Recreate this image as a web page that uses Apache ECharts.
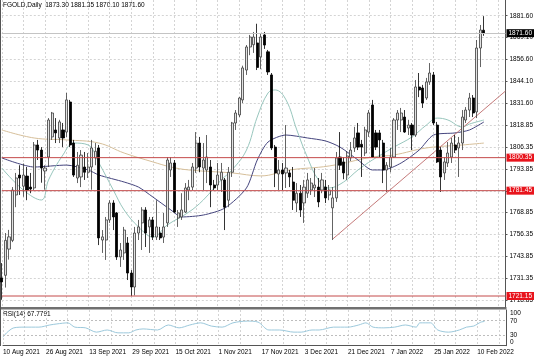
<!DOCTYPE html>
<html><head><meta charset="utf-8">
<script src="https://cdn.jsdelivr.net/npm/echarts@6/dist/echarts.min.js"></script>
<style>html,body{margin:0;padding:0;background:#fff}#c{width:536px;height:357px}</style>
</head><body><div id="c"></div>
<script>
const headerText = 'FGOLD,Daily  1873.30 1881.35 1870.10 1871.60';
const rsiText = 'RSI(14) 67.7791';
const dateTicks = ['10 Aug 2021','26 Aug 2021','13 Sep 2021','29 Sep 2021','15 Oct 2021','1 Nov 2021','17 Nov 2021','3 Dec 2021','21 Dec 2021','7 Jan 2022','25 Jan 2022','10 Feb 2022'];
const slotCount = 141; // 135 bars + empty right margin
// [open, close, low, high]
const candles = [
[1731.5,1729.2,1719,1740],[1733,1753,1726,1757.2],[1748,1755,1742,1759],[1753,1781.8,1752,1783.5],
[1779,1788.7,1772,1791.6],[1790.4,1788.7,1779,1796],[1784,1790.4,1778,1797],[1789.8,1781.8,1776,1795],
[1783.5,1782.4,1780,1791.6],[1783,1807.6,1781.8,1809.3],[1807.6,1804.7,1799,1810.5],[1804.7,1794.4,1786,1806.4],
[1792.7,1794.4,1782,1796],[1800.7,1821.9,1795,1823],[1812.2,1825.9,1810.5,1826.5],[1816.2,1814.5,1808.7,1823],
[1811.6,1820.8,1808.7,1822],[1816.2,1811.6,1806.4,1820.2],[1815,1833.4,1812.2,1837.4],[1832.2,1807.6,1806.4,1833.4],
[1808.7,1790.4,1789.3,1810.5],[1788.7,1796,1785.8,1803.6],[1789.3,1801.8,1783.5,1804.7],[1795,1792,1787.6,1803.6],
[1792,1795,1788.7,1803],[1795,1805.9,1782,1810.5],[1800.2,1804,1796,1808.7],[1805.9,1754.4,1750.3,1807.6],
[1753.2,1755,1745.8,1758.9],[1753.2,1764.7,1741.8,1766.4],[1764.7,1774.4,1763,1776],[1774.4,1766.4,1758.9,1776],
[1768.7,1743.5,1741.8,1769.2],[1743.5,1747.5,1737.8,1751.5],[1745.8,1758.9,1741.8,1760.7],[1751.5,1734.3,1730.3,1754.9],
[1734.3,1726.3,1721.15,1736],[1726.3,1757.2,1721.5,1760.7],[1757.2,1760.7,1753.2,1764.7],[1763,1770.4,1747.5,1772],
[1770.4,1757.2,1749.2,1772],[1760.7,1764.7,1745.8,1766.4],[1764.7,1754.9,1753.2,1766.4],[1754.9,1760.7,1753.2,1776],
[1757.2,1754.4,1753.2,1760.7],[1754.9,1760.7,1751.5,1768.7],[1763,1799,1760.7,1800.7],[1793.3,1797.3,1789.3,1800.7],
[1797.3,1769.2,1768.7,1799],[1765.8,1768.7,1760.7,1770.4],[1766.4,1770.4,1764.7,1780],[1769.2,1783,1768.7,1785.8],
[1781.8,1783.5,1776,1787.6],[1783.5,1795,1781.8,1797.3],[1794.4,1808.7,1791.6,1815],[1808.7,1795,1792,1812.2],
[1794.4,1799,1781.8,1808.7],[1793.3,1800.7,1785.8,1813.3],[1795,1784.7,1772,1799],[1784.7,1783,1781.8,1787.6],
[1784.7,1790.4,1781.8,1797.3],[1787.6,1792,1780.7,1797.3],[1787.6,1772,1758.9,1788.7],[1776,1792,1772,1795],
[1792,1820.2,1789.3,1820.8],[1820.2,1825.9,1816.2,1827.6],[1824.8,1834.5,1823.6,1835],[1833.4,1851.7,1831.6,1853],
[1850.5,1863.7,1847.7,1864.8],[1863.7,1869.4,1859,1870.6],[1865,1869.4,1860.3,1872.3],[1866,1852,1850.5,1877],
[1858,1869.4,1851,1871.7],[1870.6,1864.8,1862.6,1872.3],[1860.9,1849.4,1847.7,1862],[1847.7,1805.9,1804.7,1848.8],
[1806.4,1791.6,1783.5,1807.6],[1791,1793.3,1781.8,1799],[1793.3,1791,1781.8,1797.3],[1791.6,1794.4,1783,1819],
[1791.6,1789.3,1783.5,1793.3],[1786.4,1776,1770.4,1795],[1774.4,1780,1769.2,1785.8],[1780,1770.4,1766.4,1784.7],
[1774.4,1783.5,1763,1787.6],[1780,1787.6,1777.3,1791.6],[1781.8,1785.8,1779,1788.7],[1783,1784.7,1777.8,1794.4],
[1783.5,1775,1772,1788.7],[1781.8,1787.6,1780,1791.6],[1783.5,1777.3,1774.4,1787.6],[1779,1781.8,1776,1784.7],
[1771.6,1777.3,1753.2,1783.5],[1777.3,1800.2,1775,1803.6],[1800.7,1796,1793.3,1815],[1797.9,1791.6,1788,1800.7],
[1790.4,1801.3,1787.6,1804],[1800.2,1804.7,1798.4,1809.3],[1805.9,1811.6,1803.6,1818],[1814.5,1806.4,1804.7,1820.2],
[1808,1806.4,1789.3,1810.5],[1803,1816.2,1801.3,1818],[1815,1825.9,1812.2,1827.6],[1830.5,1800.7,1800.2,1833.4],
[1814.5,1806.4,1804.7,1816.2],[1814.5,1810.5,1800.7,1816.2],[1808.7,1793.3,1785.8,1810.5],[1793.3,1796,1780.7,1797.8],
[1795,1800.7,1792,1805.9],[1800.7,1821.9,1800.2,1823],[1821.9,1825.9,1816.2,1827.6],[1821.9,1825.9,1815,1828.8],
[1823.6,1815,1814.5,1827.6],[1817.3,1819,1813.3,1822],[1819,1813.3,1804.7,1820.2],[1813.3,1840.8,1812.2,1844.8],
[1840.8,1839.1,1835,1848.8],[1840.2,1831.6,1828.8,1842],[1834.5,1843.7,1833.4,1846],[1843.7,1848.8,1842,1854.5],
[1847.7,1820.2,1819,1849.4],[1819,1797.9,1797.3,1820.8],[1804.7,1789.3,1780.7,1806.4],[1791.6,1797.9,1787.6,1800.7],
[1797.3,1803,1795,1809.3],[1800.7,1808.7,1797.3,1811.6],[1807.6,1804.7,1803,1813.3],[1805.9,1808.7,1789.3,1812.2],
[1808.7,1823.6,1804.7,1827.6],[1821.9,1827.6,1820.2,1829.3],[1827.6,1834.5,1823.6,1837.4],[1834.5,1825.9,1823.6,1836.2],
[1826.5,1863.1,1823,1867.7],[1863.1,1873.4,1852.2,1876.3],[1873.3,1871.6,1870.1,1881.35]
];
// moving averages, [barIndex, price]
const fastMA = [[0,1794.4],[6,1781.8],[11,1776.1],[13,1787.6],[17,1801.9],[20,1808.7],[24,1807.6],[27,1797.3],[31,1781.8],[34,1770.4],[38,1760.7],[42,1754.9],[46,1761.8],[52,1769.2],[56,1776.1],[61,1787.6],[64,1793.3],[68,1804.7],[71,1823.6],[74,1837.4],[76,1839.1],[79,1833.4],[82,1816.2],[85,1800.2],[88,1787.6],[91,1783],[95,1786.4],[99,1793.3],[103,1799],[109,1806.4],[114,1812.2],[118,1819],[121,1823],[124,1821.9],[128,1817.9],[130,1819.6],[134,1821.9]];
const midMA = [[0,1800.2],[9,1795],[18,1796.1],[24,1793.3],[27,1790.4],[34,1786.4],[38,1783.5],[42,1777.8],[47,1770.4],[50,1766.4],[56,1767.5],[62,1771.5],[68,1783],[71,1799],[74,1809.3],[79,1813.3],[85,1811.6],[90,1809.9],[94,1806.4],[99,1799],[103,1793.3],[106,1793.3],[111,1797.3],[116,1804.7],[120,1813.3],[126,1814.5],[130,1816.2],[134,1820.8]];
const slowMA = [[0,1816.2],[9,1811.6],[18,1810.5],[27,1808.7],[34,1803],[42,1797.9],[47,1795],[52,1793.3],[64,1791.6],[72,1789.9],[80,1793.3],[91,1795.6],[103,1800.7],[109,1801.9],[118,1805.9],[128,1807.6],[134,1808.7]];
const rsiPoints = [[0,24],[1,36],[3,50],[6,52],[10,52],[13,58],[15,61],[18,64],[20,52],[23,50],[26,38],[29,44],[32,36],[35,36],[37,44],[39,47],[43,44],[46,58],[49,50],[52,58],[55,64],[58,55],[61,52],[64,64],[68,69],[71,66],[74,44],[77,44],[81,38],[83,38],[86,44],[88,44],[92,52],[96,52],[99,58],[101,64],[103,52],[106,50],[109,52],[112,58],[115,52],[116,64],[119,64],[121,44],[124,38],[127,44],[129,52],[131,55],[133,66],[134,67.78]];
const trendLine = [[92,1753.8],[140,1838.5]];
const levelLines = [1800.35, 1781.45, 1721.15];
const lastPrice = 1871.60;
const priceTicks = [1881.60,1869.10,1856.60,1844.10,1831.60,1818.85,1806.35,1793.85,1781.35,1768.85,1756.35,1743.85,1731.35,1718.85];
const rsiTicks = [0,30,70,100];
const rsiLevels = [30,70];

const categories = Array.from({length: slotCount}, (_, i) => String(i));
const FONT = 'Liberation Sans';
const gridCol = '#d4d4d4';
const chart = echarts.init(document.getElementById('c'), null, {renderer: 'canvas'});
const lbl = {fontFamily: FONT, fontSize: 6.5, color: '#000'};
const boxLabel = (txt, bg) => ({show: true, position: 'end', distance: 1, formatter: txt,
  backgroundColor: bg, color: '#fff', fontFamily: FONT, fontSize: 6.5, padding: [1, 2, 0, 2]});
// horizontal level lines drawn as plain two-point line series across the full x range
const levelSeries = levelLines.map((v, k) => ({
  type: 'line', name: 'level' + k, xAxisIndex: 0, yAxisIndex: 0, z: 8,
  data: [[0, v], [slotCount - 1, v]], showSymbol: false, silent: true,
  lineStyle: {color: '#c44a4a', width: 1, type: 'solid'},
  emphasis: {disabled: true},
  endLabel: {show: true, distance: 1, formatter: () => v.toFixed(2),
    backgroundColor: '#e8141c', color: '#fff', fontFamily: FONT, fontSize: 6.5, padding: [1, 2, 0, 2]}
}));

chart.setOption({
  animation: false,
  backgroundColor: '#fff',
  textStyle: {fontFamily: FONT},
  grid: [
    {left: 1.8, right: 30, top: 0, height: 307},
    {left: 1.8, right: 30, top: 310, height: 35.7}
  ],
  xAxis: [
    {type: 'category', gridIndex: 0, data: categories, boundaryGap: false,
     axisLine: {show: false, onZero: false}, axisTick: {show: false}, axisLabel: {show: false},
     splitLine: {show: true, interval: 5, lineStyle: {color: gridCol, type: [2, 2], width: 1}}},
    {type: 'category', gridIndex: 1, data: categories, boundaryGap: false,
     axisLine: {show: true, onZero: false, lineStyle: {color: '#555', width: 1}},
     axisTick: {show: false},
     axisLabel: Object.assign({show: true, margin: 3, align: 'left',
       interval: (i) => i % 12 === 0 && i / 12 < dateTicks.length,
       formatter: (v, i) => dateTicks[Math.round(Number(v) / 12)] || ''}, lbl),
     splitLine: {show: true, interval: 5, lineStyle: {color: gridCol, type: [2, 2], width: 1}}}
  ],
  yAxis: [
    {type: 'value', gridIndex: 0, position: 'right', min: 1714.86, max: 1890.59, scale: true,
     axisLine: {show: true, lineStyle: {color: '#555', width: 1}},
     axisTick: {show: true, length: 2, customValues: priceTicks, lineStyle: {color: '#555'}},
     axisLabel: Object.assign({margin: 4, customValues: priceTicks, formatter: v => Number(v).toFixed(2)}, lbl),
     splitLine: {show: false}},
    {type: 'value', gridIndex: 1, position: 'right', min: 0, max: 100,
     axisLine: {show: true, lineStyle: {color: '#555', width: 1}},
     axisTick: {show: false},
     axisLabel: Object.assign({margin: 4, customValues: rsiTicks,
       verticalAlignMaxLabel: 'top', verticalAlignMinLabel: 'bottom'}, lbl),
     splitLine: {show: false}}
  ],
  series: [
    {type: 'line', name: 'grid', xAxisIndex: 0, yAxisIndex: 0, data: [], z: 0,
     markLine: {symbol: 'none', silent: true, animation: false, z: 0,
       lineStyle: {color: gridCol, width: 1, type: [2, 2]}, label: {show: false},
       data: priceTicks.map(v => ({yAxis: v}))}},
    {type: 'line', name: 'slow', xAxisIndex: 0, yAxisIndex: 0, data: slowMA, smooth: 0.4,
     showSymbol: false, lineStyle: {color: '#d6bf9a', width: 1}, z: 1},
    {type: 'line', name: 'mid', xAxisIndex: 0, yAxisIndex: 0, data: midMA, smooth: 0.25,
     showSymbol: false, lineStyle: {color: '#45457e', width: 1}, z: 1},
    {type: 'line', name: 'fast', xAxisIndex: 0, yAxisIndex: 0, data: fastMA, smooth: 0.4,
     showSymbol: false, lineStyle: {color: '#98c6bd', width: 1}, z: 1},
    {type: 'line', name: 'trend', xAxisIndex: 0, yAxisIndex: 0, data: trendLine,
     showSymbol: false, lineStyle: {color: '#c57a7a', width: 1}, z: 1},
    {type: 'line', name: 'last', xAxisIndex: 0, yAxisIndex: 0, data: [],
     markLine: {symbol: 'none', silent: true, animation: false,
       lineStyle: {color: '#c4c4c4', width: 1, type: 'solid'},
       data: [{yAxis: lastPrice, label: boxLabel(lastPrice.toFixed(2), '#000')}]}},
    {type: 'candlestick', name: 'FGOLD', xAxisIndex: 0, yAxisIndex: 0, data: candles, barWidth: 2.6, z: 3,
     itemStyle: {color: '#e2e2e2', color0: '#000', borderColor: '#3c3c3c', borderColor0: '#000', borderWidth: 0.8}},
    ...levelSeries,
    {type: 'line', name: 'RSI', xAxisIndex: 1, yAxisIndex: 1, data: rsiPoints, smooth: 0.3,
     showSymbol: false, lineStyle: {color: '#9cc9dc', width: 1},
     markLine: {symbol: 'none', silent: true, animation: false,
       data: rsiLevels.map(v => ({yAxis: v})),
       lineStyle: {color: '#bdbdbd', type: [2, 2], width: 1}, label: {show: false}}}
  ],
  graphic: [
    {type: 'text', left: 3, top: 2, style: {text: headerText, fill: '#000', font: '6.5px "Liberation Sans"'}},
    {type: 'text', left: 3, top: 311, style: {text: rsiText, fill: '#000', font: '6.5px "Liberation Sans"'}},
    {type: 'rect', shape: {x: 0, y: 307, width: 506.5, height: 2.5}, style: {fill: '#707070'}},
    {type: 'line', shape: {x1: 0.5, y1: 0, x2: 0.5, y2: 346}, style: {stroke: '#555', lineWidth: 1}}
  ]
});
</script></body></html>
